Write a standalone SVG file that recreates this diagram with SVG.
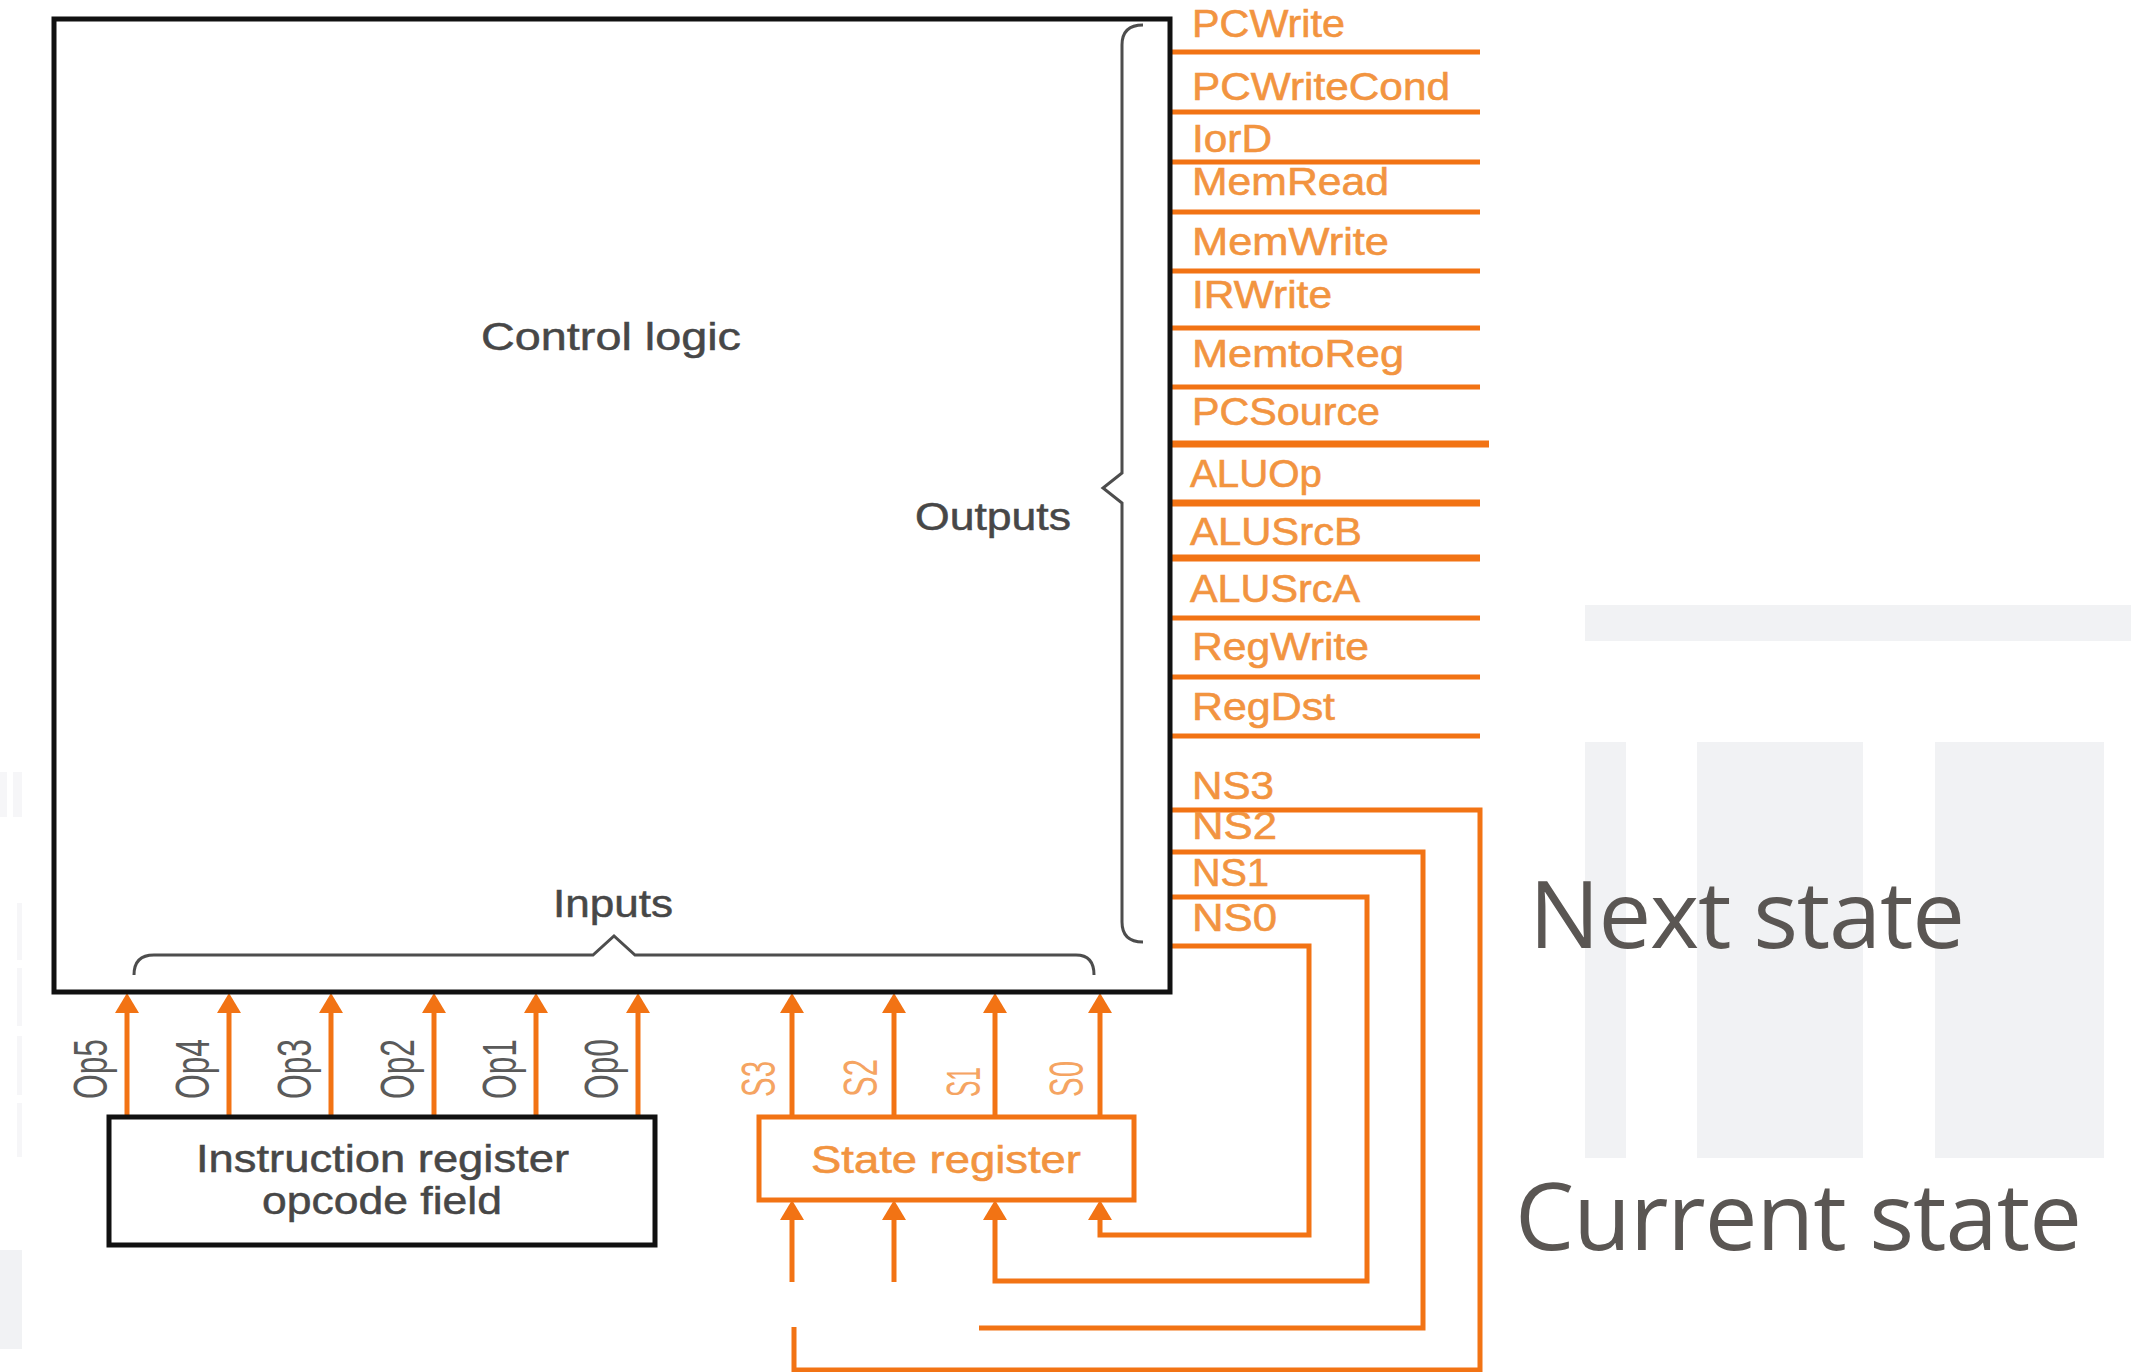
<svg xmlns="http://www.w3.org/2000/svg" width="2131" height="1372" viewBox="0 0 2131 1372">
  <style>
    .bg { fill:#f1f2f4; }
    .bgf { fill:#f6f6f8; }
    .wire { stroke:#f27314; stroke-width:5; fill:none; }
    .wire7 { stroke:#f27314; stroke-width:7; fill:none; }
    .sig { font-family:"Liberation Sans", Arial, sans-serif; font-size:39px; fill:#f29440; stroke:#f29440; stroke-width:0.6px; }
    .gl { font-family:"Liberation Sans", Arial, sans-serif; font-size:39px; fill:#474747; stroke:#474747; stroke-width:0.5px; }
    .opl { font-family:"Liberation Sans", Arial, sans-serif; font-size:48px; fill:#5a5a5a; }
    .sl { font-family:"Liberation Sans", Arial, sans-serif; font-size:48px; fill:#f5a462; }
    .brace { stroke:#4d4d4d; stroke-width:3; fill:none; }
    .big { font-family:"Open Sans", "Noto Sans", sans-serif; font-size:94px; fill:#5a5653; }
    .blk { fill:none; stroke:#111; stroke-width:5; }
    .orb { fill:#fff; stroke:#f27314; stroke-width:5; }
  </style>
  <defs>
    <marker id="arr" markerUnits="userSpaceOnUse" viewBox="0 0 20 24" markerWidth="20" markerHeight="24" refX="0" refY="12" orient="auto">
      <path d="M0,0 L20,12 L0,24 Z" fill="#f27314"/>
    </marker>
  </defs>
  <rect width="2131" height="1372" fill="#ffffff"/>

  <g id="background">
    <rect class="bg" x="1585" y="605" width="546" height="36"/>
    <rect class="bg" x="1585" y="742" width="41" height="416"/>
    <rect class="bg" x="1697" y="742" width="166" height="416"/>
    <rect class="bg" x="1935" y="742" width="169" height="416"/>
    <rect class="bgf" x="0" y="772" width="7" height="45"/>
    <rect class="bgf" x="13" y="772" width="9" height="45"/>
    <rect class="bgf" x="17" y="903" width="5" height="57"/>
    <rect class="bgf" x="17" y="968" width="5" height="58"/>
    <rect class="bgf" x="17" y="1036" width="5" height="59"/>
    <rect class="bgf" x="17" y="1103" width="5" height="54"/>
    <rect class="bg" x="0" y="1250" width="22" height="99"/>
    <text class="big" x="1529" y="948" textLength="436">Next state</text>
    <text class="big" x="1515" y="1250" textLength="567">Current state</text>
  </g>

  <g id="connectors">
    <line class="wire" x1="1170" y1="52" x2="1480" y2="52"/>
    <line class="wire" x1="1170" y1="112" x2="1480" y2="112"/>
    <line class="wire" x1="1170" y1="162" x2="1480" y2="162"/>
    <line class="wire" x1="1170" y1="212" x2="1480" y2="212"/>
    <line class="wire" x1="1170" y1="271" x2="1480" y2="271"/>
    <line class="wire" x1="1170" y1="328" x2="1480" y2="328"/>
    <line class="wire" x1="1170" y1="387" x2="1480" y2="387"/>
    <line class="wire7" x1="1170" y1="444" x2="1489" y2="444"/>
    <line class="wire7" x1="1170" y1="503" x2="1480" y2="503"/>
    <line class="wire7" x1="1170" y1="558" x2="1480" y2="558"/>
    <line class="wire" x1="1170" y1="618" x2="1480" y2="618"/>
    <line class="wire" x1="1170" y1="677" x2="1480" y2="677"/>
    <line class="wire" x1="1170" y1="736" x2="1480" y2="736"/>
    <path class="wire" d="M1170,810 H1480 V1370 H794 V1327"/>
    <path class="wire" d="M1170,852 H1423 V1328 H979"/>
    <path class="wire" d="M1170,897 H1367 V1281 H995 V1220" marker-end="url(#arr)"/>
    <path class="wire" d="M1170,946 H1309 V1235 H1100 V1220" marker-end="url(#arr)"/>
    <path class="wire" d="M792,1282 V1220" marker-end="url(#arr)"/>
    <path class="wire" d="M894,1282 V1220" marker-end="url(#arr)"/>
    <line class="wire" x1="127" y1="1117" x2="127" y2="1013" marker-end="url(#arr)"/>
    <line class="wire" x1="229" y1="1117" x2="229" y2="1013" marker-end="url(#arr)"/>
    <line class="wire" x1="331" y1="1117" x2="331" y2="1013" marker-end="url(#arr)"/>
    <line class="wire" x1="434" y1="1117" x2="434" y2="1013" marker-end="url(#arr)"/>
    <line class="wire" x1="536" y1="1117" x2="536" y2="1013" marker-end="url(#arr)"/>
    <line class="wire" x1="638" y1="1117" x2="638" y2="1013" marker-end="url(#arr)"/>
    <line class="wire" x1="792" y1="1117" x2="792" y2="1013" marker-end="url(#arr)"/>
    <line class="wire" x1="894" y1="1117" x2="894" y2="1013" marker-end="url(#arr)"/>
    <line class="wire" x1="995" y1="1117" x2="995" y2="1013" marker-end="url(#arr)"/>
    <line class="wire" x1="1100" y1="1117" x2="1100" y2="1013" marker-end="url(#arr)"/>
  </g>

  <g id="control-logic">
    <rect class="blk" x="54" y="19" width="1116" height="973"/>
    <text class="gl" x="481" y="350" textLength="260" lengthAdjust="spacingAndGlyphs">Control logic</text>
    <text class="gl" x="915" y="530" textLength="156" lengthAdjust="spacingAndGlyphs">Outputs</text>
    <text class="gl" x="553" y="917" textLength="120" lengthAdjust="spacingAndGlyphs">Inputs</text>
    <path class="brace" d="M1143,25 Q1122,25 1122,45 L1122,473 L1103,488 L1122,503 L1122,922 Q1122,942 1143,942"/>
    <path class="brace" d="M134,975 Q134,955 154,955 L593,955 L614,936 L635,955 L1076,955 Q1094,955 1094,975"/>
  </g>

  <g id="signal-labels">
    <text class="sig" x="1192" y="37" textLength="153" lengthAdjust="spacingAndGlyphs">PCWrite</text>
    <text class="sig" x="1192" y="100" textLength="258" lengthAdjust="spacingAndGlyphs">PCWriteCond</text>
    <text class="sig" x="1192" y="152" textLength="80" lengthAdjust="spacingAndGlyphs">IorD</text>
    <text class="sig" x="1192" y="195" textLength="197" lengthAdjust="spacingAndGlyphs">MemRead</text>
    <text class="sig" x="1192" y="255" textLength="197" lengthAdjust="spacingAndGlyphs">MemWrite</text>
    <text class="sig" x="1192" y="308" textLength="140" lengthAdjust="spacingAndGlyphs">IRWrite</text>
    <text class="sig" x="1192" y="367" textLength="212" lengthAdjust="spacingAndGlyphs">MemtoReg</text>
    <text class="sig" x="1192" y="425" textLength="188" lengthAdjust="spacingAndGlyphs">PCSource</text>
    <text class="sig" x="1190" y="487" textLength="132" lengthAdjust="spacingAndGlyphs">ALUOp</text>
    <text class="sig" x="1190" y="545" textLength="172" lengthAdjust="spacingAndGlyphs">ALUSrcB</text>
    <text class="sig" x="1190" y="602" textLength="170" lengthAdjust="spacingAndGlyphs">ALUSrcA</text>
    <text class="sig" x="1192" y="660" textLength="177" lengthAdjust="spacingAndGlyphs">RegWrite</text>
    <text class="sig" x="1192" y="720" textLength="143" lengthAdjust="spacingAndGlyphs">RegDst</text>
    <text class="sig" x="1192" y="799" textLength="82" lengthAdjust="spacingAndGlyphs">NS3</text>
    <text class="sig" x="1192" y="839" textLength="85" lengthAdjust="spacingAndGlyphs">NS2</text>
    <text class="sig" x="1192" y="886" textLength="77" lengthAdjust="spacingAndGlyphs">NS1</text>
    <text class="sig" x="1192" y="931" textLength="85" lengthAdjust="spacingAndGlyphs">NS0</text>
  </g>

  <g id="input-labels">
    <text class="opl" transform="translate(107,1099) rotate(-90)" textLength="60" lengthAdjust="spacingAndGlyphs">Op5</text>
    <text class="opl" transform="translate(209,1099) rotate(-90)" textLength="60" lengthAdjust="spacingAndGlyphs">Op4</text>
    <text class="opl" transform="translate(311,1099) rotate(-90)" textLength="60" lengthAdjust="spacingAndGlyphs">Op3</text>
    <text class="opl" transform="translate(414,1099) rotate(-90)" textLength="60" lengthAdjust="spacingAndGlyphs">Op2</text>
    <text class="opl" transform="translate(516,1099) rotate(-90)" textLength="60" lengthAdjust="spacingAndGlyphs">Op1</text>
    <text class="opl" transform="translate(618,1099) rotate(-90)" textLength="60" lengthAdjust="spacingAndGlyphs">Op0</text>
    <text class="sl" transform="translate(775,1097) rotate(-90)" textLength="36" lengthAdjust="spacingAndGlyphs">S3</text>
    <text class="sl" transform="translate(877,1097) rotate(-90)" textLength="38" lengthAdjust="spacingAndGlyphs">S2</text>
    <text class="sl" transform="translate(980,1097) rotate(-90)" textLength="30" lengthAdjust="spacingAndGlyphs">S1</text>
    <text class="sl" transform="translate(1083,1097) rotate(-90)" textLength="36" lengthAdjust="spacingAndGlyphs">S0</text>
  </g>

  <g id="instruction-register">
    <rect class="blk" x="109" y="1117" width="546" height="128" fill="#fff"/>
    <text class="gl" x="196" y="1172" textLength="373" lengthAdjust="spacingAndGlyphs">Instruction register</text>
    <text class="gl" x="262" y="1214" textLength="240" lengthAdjust="spacingAndGlyphs">opcode field</text>
  </g>

  <g id="state-register">
    <rect class="orb" x="759" y="1117" width="375" height="83"/>
    <text class="sig" x="811" y="1173" textLength="270" lengthAdjust="spacingAndGlyphs">State register</text>
  </g>
</svg>
